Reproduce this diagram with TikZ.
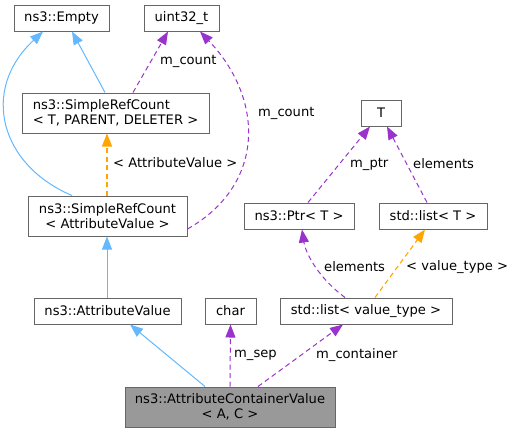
\documentclass[tikz,border=0pt]{standalone}
\usepackage{fontspec}
\setmainfont{DejaVu Sans}
\usetikzlibrary{arrows.meta}
\definecolor{boxline}{HTML}{666666}
\definecolor{mainfill}{HTML}{999999}
\definecolor{inhblue}{HTML}{63B8FF}
\definecolor{usepurple}{HTML}{9A32CD}
\definecolor{tmplorange}{HTML}{FFA500}
\tikzset{
  cls/.style={draw=boxline, line width=1pt, fill=white, inner sep=0pt, font=\fontsize{13.1}{15}\selectfont, align=center},
  mainbox/.style={cls, fill=mainfill},
  tip/.style={-{Triangle[length=13pt,width=10pt]}},
  inh/.style={tip, draw=inhblue, line width=1pt},
  usage/.style={tip, draw=usepurple, line width=1pt, dash pattern=on 5pt off 3.5pt},
  tmpl/.style={tip, draw=tmplorange, line width=1.1pt, dash pattern=on 5pt off 3.5pt},
  lbl/.style={anchor=west, inner sep=0pt, font=\fontsize{13.1}{15}\selectfont},
}
\begin{document}
\begin{tikzpicture}[x=1pt,y=-1pt]
\useasboundingbox (0,0) rectangle (513,432);
% nodes
\node[cls, minimum width=95pt, minimum height=26pt] (empty) at (61.5,18) {ns3::Empty};
\node[cls, minimum width=75pt, minimum height=26pt] (uint) at (181.5,18) {uint32\_t};
\node[cls, minimum width=187pt, minimum height=40pt, align=left] (srcT) at (115.5,113) {ns3::SimpleRefCount\\< T, PARENT, DELETER >};
\node[cls, minimum width=159pt, minimum height=40pt] (srcAV) at (107.5,216) {ns3::SimpleRefCount\\< AttributeValue >};
\node[cls, minimum width=40pt, minimum height=26pt] (T) at (381,113) {T};
\node[cls, minimum width=110pt, minimum height=26pt] (ptr) at (299,216) {ns3::Ptr< T >};
\node[cls, minimum width=108pt, minimum height=26pt] (listT) at (433,216) {std::list< T >};
\node[cls, minimum width=147pt, minimum height=26pt] (av) at (107.5,311) {ns3::AttributeValue};
\node[cls, minimum width=51pt, minimum height=26pt] (char) at (230.5,311) {char};
\node[cls, minimum width=172pt, minimum height=26pt] (listVT) at (366,311) {std::list< value\_type >};
\node[mainbox, minimum width=210pt, minimum height=40pt] (acv) at (230,407) {ns3::AttributeContainerValue\\< A, C >};
% inheritance
\draw[inh] ([xshift=-10.5pt]srcT.north) -- ([xshift=10.5pt]empty.south);
\draw[inh] ([xshift=-35.5pt]srcAV.north) .. controls (0,165) and (-20,90) .. ([xshift=-18.5pt]empty.south);
\draw[inh] ([xshift=-0.5pt]av.north) -- ([xshift=-0.5pt]srcAV.south);
\draw[inh] ([xshift=-25pt]acv.north) -- ([xshift=22.5pt]av.south);
% usage
\draw[usage] ([xshift=17.5pt]srcT.north) -- ([xshift=-13.5pt]uint.south);
\node[lbl] (lmc1) at (160,61) {m\_count};
\draw[usage] ([yshift=-13pt]srcAV.east) .. controls (265,185) and (265,100) .. ([xshift=18.5pt]uint.south);
\node[lbl] (lmc2) at (258,113) {m\_count};
\draw[usage] (acv.north) -- (char.south);
\node[lbl] (lsep) at (234,355) {m\_sep};
\draw[usage] ([xshift=28pt]acv.north) -- ([xshift=-23pt]listVT.south);
\node[lbl] (lcont) at (316,355) {m\_container};
\draw[usage] ([xshift=-21pt]listVT.north) .. controls (315,275) and (305,250) .. ([xshift=3pt]ptr.south);
\node[lbl] (lel1) at (324,267) {elements};
\draw[usage] ([xshift=9pt]ptr.north) -- ([xshift=-11pt]T.south);
\node[lbl] (lptr) at (350,164) {m\_ptr};
\draw[usage] ([xshift=-6pt]listT.north) -- ([xshift=6pt]T.south);
\node[lbl] (lel2) at (413,164) {elements};
% template
\draw[tmpl] ([xshift=-0.5pt]srcAV.north) -- ([xshift=-0.5pt]srcAV.north |- srcT.south);
\node[lbl] (lav) at (113,163) {< AttributeValue >};
\draw[tmpl] ([xshift=9pt]listVT.north) -- ([xshift=-8pt]listT.south);
\node[lbl] (lvt) at (406,267) {< value\_type >};
\end{tikzpicture}
\end{document}
